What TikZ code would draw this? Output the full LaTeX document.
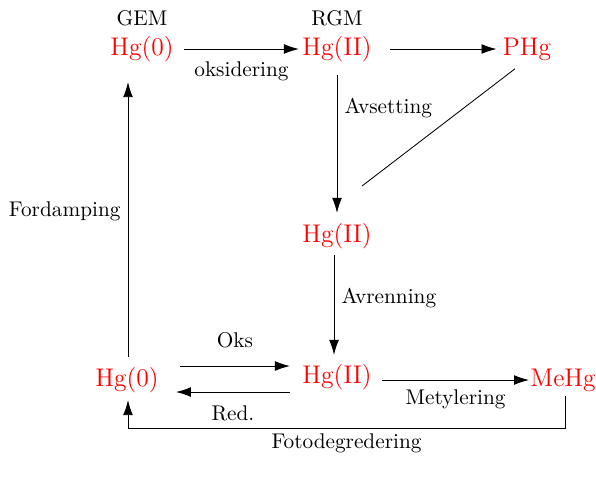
\documentclass[tikz,border=0pt]{standalone}
\usetikzlibrary{positioning,calc,arrows.meta}

\begin{document}
\begin{tikzpicture}[x=0.47pt,y=-0.47pt,
                    species/.style={text=red,font=\large,inner sep=0pt},
                    flow/.style={-{Latex[length=7pt,width=4.6pt]}}
]
\useasboundingbox (0,0) rectangle (596,481);

\node [species] at (142,49) (gem0) {Hg(0)};
\node [species] at (337,49) (rgm2) {Hg(II)};
\node [species] at (527,49) (phg) {PHg};
\node [species] at (337,236) (dep2) {Hg(II)};
\node [species] at (127,380) (aq0) {Hg(0)};
\node [species] at (337,377) (aq2) {Hg(II)};
\node [species] at (563,380) (mehg) {MeHg};
%
\node [above=1pt of gem0] (gem) {GEM};
\node [above=1pt of rgm2] (rgm) {RGM};
%
\draw[flow] ($(gem0.east)+(10,0)$) -- node[below=2.5pt] (oksid) {oksidering} ($(rgm2.west)+(-3,0)$);
\draw[flow] ($(rgm2.east)+(18,0)$) -- ($(phg.west)+(-6,0)$);
\coordinate (dropend) at ($(dep2)+(25,-50)$);
\draw ($(phg.south)+(-12,8)$) -- (dropend);
\draw[flow] ($(rgm2.south)+(0,13)$) -- node[right,pos=0.24] (avs) {Avsetting} ($(dep2.north)+(0,-10)$);
\draw[flow] ($(dep2.south)+(-3,6)$) -- node[right,pos=0.43] (avr) {Avrenning} ($(aq2.north)+(-3,-9)$);
\draw[flow] ($(aq0.north)+(1,-10)$) -- node[left,pos=0.53] (ford) {Fordamping} ($(aq0.north |- gem0.south)+(1,20)$);
%
\draw[flow] ($(aq0.east)+(21,-14)$) -- node[above=5pt] (oks) {Oks} ($(aq2.west)+(-12,-11)$);
\draw[flow] ($(aq2.west)+(-12,15)$) -- node[below=3pt] (red) {Red.} ($(aq0.east)+(17,12)$);
\draw[flow] ($(aq2.east |- mehg.west)+(10,0)$) -- node[below=1pt] (mety) {Metylering} ($(mehg.west)+(-1,0)$);
\draw[flow] ($(mehg.south)+(2,4)$) -- ++(0,33) -| node[below=-1pt,pos=0.25] (foto) {Fotodegredering} ($(aq0.south)+(1,7)$);
\end{tikzpicture}
\end{document}
